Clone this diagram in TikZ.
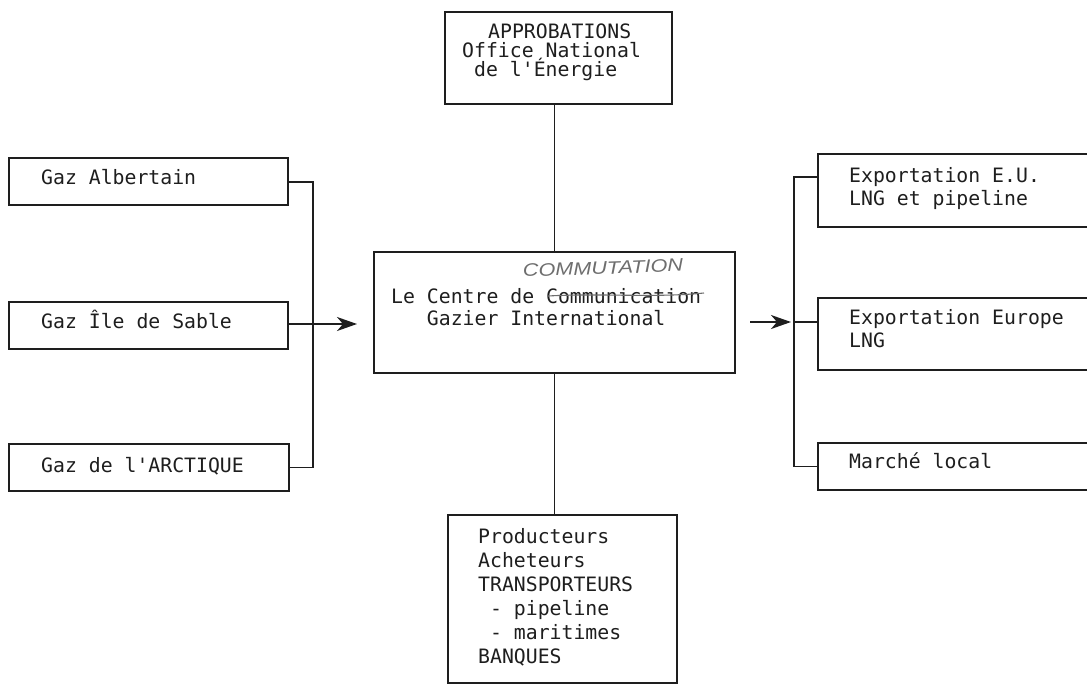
\documentclass[tikz,border=0pt]{standalone}
\usepackage{fontspec}
\newfontfamily\mono{DejaVu Sans Mono}
\newfontfamily\hand{Liberation Sans}
\usetikzlibrary{arrows.meta}
\definecolor{ink}{HTML}{1E1E1E}
\definecolor{pencil}{HTML}{6E6E6E}
\newcommand{\mylines}[1]{\begin{tabular}[t]{@{}l@{}}#1\end{tabular}}
\begin{document}
\begin{tikzpicture}[x=1pt,y=-1pt,
  box/.style={draw=ink, line width=1.6pt, rectangle, inner sep=0pt, anchor=north west},
  lbl/.style={font=\mono\fontsize{19.8}{23.5}\selectfont, inner sep=0pt, anchor=base west, text=ink},
  wire/.style={draw=ink, line width=1.6pt},
  arr/.style={wire, -{Stealth[length=20pt,width=14pt,inset=6pt]}},
  handw/.style={font=\hand\itshape\fontsize{18}{18}\selectfont, text=pencil, inner sep=0pt, anchor=base west}]
\path[use as bounding box] (0,0) rectangle (1087,683);
\clip (0,0) rectangle (1087,683);
\fill[white] (0,0) rectangle (1087,683);

% boxes
\node[box, minimum width=227pt, minimum height=92pt] (top) at (444,11) {};
\node[box, minimum width=361pt, minimum height=121pt] (ctr) at (373,251) {};
\node[box, minimum width=229pt, minimum height=168pt] (bot) at (447,514) {};
\node[box, minimum width=279pt, minimum height=47pt] (a1) at (8,157) {};
\node[box, minimum width=279pt, minimum height=47pt] (a2) at (8,301) {};
\node[box, minimum width=280pt, minimum height=47pt] (a3) at (8,443) {};
\node[box, minimum width=300pt, minimum height=73pt] (b1) at (817,153) {};
\node[box, minimum width=300pt, minimum height=72pt] (b2) at (817,297) {};
\node[box, minimum width=300pt, minimum height=47pt] (b3) at (817,442) {};

% texts
\node[lbl] (top1) at (488,38) {APPROBATIONS};
\node[lbl] (top2) at (462,57) {Office National};
\node[lbl] (top3) at (474,76) {de l\textquotesingle Énergie};
\node[lbl, font=\mono\fontsize{19.8}{22}\selectfont] (ctrt) at (391,303)
  {\mylines{Le Centre de Communication\\\hphantom{xxx}Gazier International}};
\node[handw, rotate=2, xscale=1.2] (hw) at (523,277) {COMMUTATION};
\draw[pencil, line width=1.1pt] (548,296) .. controls (600,293) and (655,298) .. (704,293);
\node[lbl, font=\mono\fontsize{19.8}{24}\selectfont] (bott) at (478,543)
  {\mylines{Producteurs\\Acheteurs\\TRANSPORTEURS\\\hphantom{x}- pipeline\\\hphantom{x}- maritimes\\BANQUES}};
\node[lbl] (a1t) at (41,184) {Gaz Albertain};
\node[lbl] (a2t) at (41,328) {Gaz Île de Sable};
\node[lbl] (a3t) at (41,472) {Gaz de l\textquotesingle ARCTIQUE};
\node[lbl] (b1t) at (849,182) {\mylines{Exportation E.U.\\LNG et pipeline}};
\node[lbl] (b2t) at (849,324) {\mylines{Exportation Europe\\LNG}};
\node[lbl] (b3t) at (849,468) {Marché local};

% connectors
\coordinate (lbus) at (313,0);
\coordinate (ltip) at (357,324);
\coordinate (rstart) at (750,322);
\coordinate (rtip) at (791,322);
\coordinate (rbus) at (794,0);

\draw[wire] (top.south -| ctr.north) -- (ctr.north);
\draw[wire] (ctr.south) -- (ctr.south |- bot.north);
\draw[wire] ([yshift=-0.5pt]a1.east) -| (lbus |- a3.east) -- (a3.east);
\draw[arr] (a2.east |- ltip) -- (ltip);
\draw[arr] (rstart) -- (rtip);
\draw[wire] (b2.west |- rtip) -- (rbus |- rtip);
\draw[wire] (b1.west |- 0,177) -| (rbus |- b3.west) -- (b3.west);
\end{tikzpicture}
\end{document}
